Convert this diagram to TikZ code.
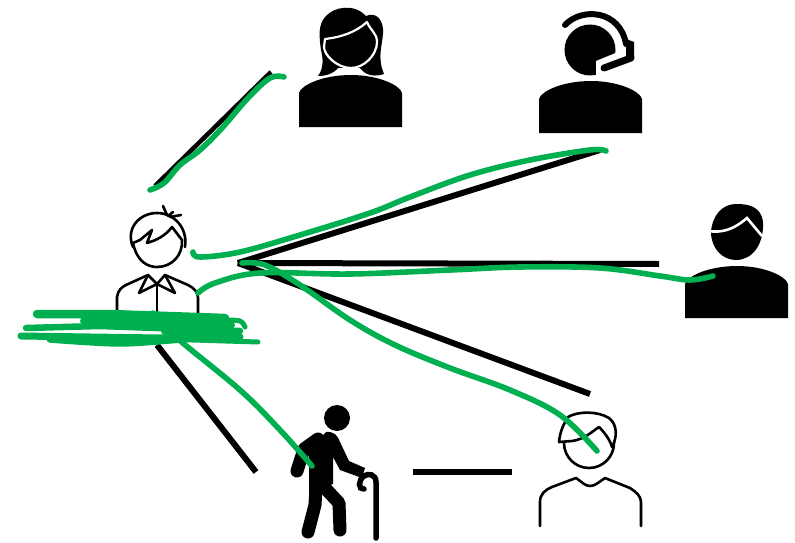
\documentclass[tikz,border=0pt]{standalone}
\definecolor{inkgreen}{HTML}{00B050}
\tikzset{
  solid person/.style={fill=black, draw=white, line width=2.2pt, line join=round},
  thin person/.style={draw=black, line width=2.6pt, line join=round, line cap=round},
  limb/.style={line width=13pt, line cap=round, line join=round},
  link/.style={draw=black, line width=6pt},
  ink/.style={draw=inkgreen, line width=5.6pt, line cap=round, line join=round},
}
\newcommand{\shoulders}[3]{% left x, right x, bottom y
  \path[solid person, draw=none] (#1,#3) -- (#1,#3-34)
    .. controls (#1+2,#3-42) and (#1+24,#3-52) .. (#1+52,#3-52)
    .. controls (#2-24,#3-52) and (#2-2,#3-42) .. (#2,#3-34) -- (#2,#3) -- cycle;}
\begin{document}
\begin{tikzpicture}[x=1pt, y=-1pt]
    \useasboundingbox (0,0) rectangle (795,543);

    % Draw anchors of the lines
    \coordinate (hub) at (238,263);
    \coordinate (womanEnd) at (271,72);
    \coordinate (userEnd) at (155,186);
    \coordinate (agentEnd) at (600,150);
    \coordinate (manEnd) at (659,264);
    \coordinate (youngEnd) at (590,394);
    \coordinate (userFoot) at (157,345);
    \coordinate (elderEnd) at (256,472);
    \coordinate (elderLink) at (413,472);
    \coordinate (youngLink) at (512,472);

    % Draw black lines
    \draw[link, line width=4.5pt] (womanEnd) -- (userEnd);
    \draw[link, line join=bevel] (agentEnd) -- (hub) -- (manEnd);
    \draw[link] (hub) -- (youngEnd);
    \draw[link] (userFoot) -- (elderEnd);
    \draw[link] (elderLink) -- (youngLink);

    % Draw user on the left
    \draw[thin person] (133,247) .. controls (125,228) and (140,213) .. (157,213)
        .. controls (174,213) and (188,228) .. (185,247);
    \draw[thin person, fill=white] (133,243) .. controls (137,262) and (148,267) .. (157,267)
        .. controls (172,267) and (183,255) .. (182,240)
        -- (172,227) .. controls (165,236) and (157,240) .. (147,243)
        -- (152,230) -- (140,240) -- cycle;
    \draw[thin person] (163,206) -- (167,215) (173,212) -- (168,216) (181,215) -- (170,217);
    \draw[thin person] (117,315) -- (117,297) .. controls (118,290) and (122,287) .. (126,285)
        -- (148,275) -- (157,284) -- (165,275) -- (188,285)
        .. controls (194,288) and (198,292) .. (198,298) -- (198,315);
    \draw[thin person] (148,275) -- (139,293) -- (157,284) -- (175,293) -- (165,275);
    \draw[thin person] (157,284) -- (157,317);

    % Draw woman at the top
    \fill (318,76) .. controls (324,68) and (323,58) .. (321,50)
        .. controls (319,36) and (318,24) .. (326,16)
        .. controls (334,7) and (354,3) .. (366,16)
        .. controls (375,12) and (382,18) .. (383,29)
        .. controls (384,42) and (376,55) .. (384,74)
        .. controls (375,77) and (366,76) .. (360,68) -- (338,68)
        .. controls (333,74) and (326,76) .. (318,76) -- cycle;
    \path[solid person] (325,39) .. controls (342,37) and (356,32) .. (367,22)
        .. controls (370,30) and (377,33) .. (377,42)
        .. controls (377,55) and (364,68) .. (351,68)
        .. controls (337,68) and (324,55) .. (324,47) -- cycle;
    \shoulders{299}{402}{127}

    % Draw agent with headset
    \fill (590,50) circle [radius=25.5];
    \fill[white] (596,61) -- (618,52) -- (625,80) -- (596,80) -- cycle;
    \draw[line width=6pt, line cap=round] (565,25) .. controls (582,7) and (620,10) .. (626,44);
    \fill (626,39) -- (634,42) -- (634,58) -- (626,61) -- cycle;
    \draw[line width=7pt, line cap=round] (604,68) -- (631,58);
    \shoulders{539}{642}{133}

    % Draw man on the right
    \fill (711,232) .. controls (712,216) and (722,204) .. (736,204)
        .. controls (748,204) and (761,206) .. (763,222)
        .. controls (764,245) and (752,260) .. (736,260)
        .. controls (722,260) and (711,248) .. (711,232) -- cycle;
    \draw[white, line width=2.6pt] (708,231) .. controls (722,233) and (733,230) .. (747,218) -- (762,236);
    \shoulders{685}{788}{318}

    % Draw old man with cane
    \fill (337,418) circle [radius=13];
    \fill (326,432) .. controls (334,431) and (338,436) .. (340,442) -- (349,461) -- (365,468)
        -- (362,478) -- (340,470) -- (333,457) -- (333,484) -- (309,492) -- (309,450) -- cycle;
    \draw[limb] (318,439) -- (304,449) -- (297,471);
    \draw[limb] (316,488) -- (315,505) -- (308,532);
    \draw[limb] (325,488) -- (339,503) -- (340,530);
    \draw[line width=5.5pt, line cap=round] (376,538) -- (376,482)
        .. controls (376,474) and (368,473) .. (364,476)
        .. controls (358,480) and (358,490) .. (364,489);

    % Draw young man
    \draw[thin person] (589,443) circle [radius=25];
    \draw[thin person, fill=white] (559,442) .. controls (560,432) and (563,425) .. (568,417)
        .. controls (578,411) and (598,411) .. (609,418)
        .. controls (618,425) and (617,438) .. (612,447)
        .. controls (610,440) and (605,433) .. (599,427)
        .. controls (590,433) and (585,439) .. (572,441) -- cycle;
    \draw[thin person] (540,526) -- (540,502) .. controls (540,494) and (545,490) .. (552,487)
        -- (576,478) .. controls (582,482) and (585,486) .. (590,486)
        .. controls (595,486) and (599,482) .. (605,478) -- (630,488)
        .. controls (636,492) and (641,496) .. (641,502) -- (641,526);

    % Draw green ink over everything
    \draw[ink] plot[smooth, tension=.6] coordinates {(284,77) (270,78) (248,98) (222,128) (200,150) (180,165) (164,183) (150,190)};
    \draw[ink] plot[smooth, tension=.6] coordinates {(193,252) (200,257) (240,252) (300,235) (370,213) (410,197) (470,175) (530,160) (590,150) (606,151)};
    \draw[ink] plot[smooth, tension=.6] coordinates {(198,293) (215,283) (260,273) (350,274) (450,270) (520,267) (600,268) (660,276) (690,280) (713,276)};
    \draw[ink] plot[smooth, tension=.6] coordinates {(242,263) (265,265) (300,285) (350,320) (395,345) (450,368) (510,390) (560,415) (597,451)};
    \draw[ink] plot[smooth, tension=.6] coordinates {(153,313) (177,338) (240,390) (280,430) (312,466)};

    % Scribble over the feet of the user
    \draw[ink, line width=8.5pt] (37,314) -- (110,314) -- (225,318);
    \draw[ink, line width=10pt] (85,321) -- (230,325);
    \draw[ink, line width=5pt] plot[smooth, tension=.6] coordinates {(225,320) (240,321) (245,327)};
    \draw[ink, line width=6.5pt] (26,328) -- (100,326) -- (240,331);
    \draw[ink, line width=7pt] (21,336) -- (160,338) -- (240,337);
    \draw[ink, line width=7.5pt] plot[smooth, tension=.5] coordinates {(50,339) (120,343) (180,339)};
    \draw[ink, line width=5pt] (160,339) -- (258,342);
    \draw[ink, line width=8pt] (165,331) -- (235,333);
\end{tikzpicture}
\end{document}
